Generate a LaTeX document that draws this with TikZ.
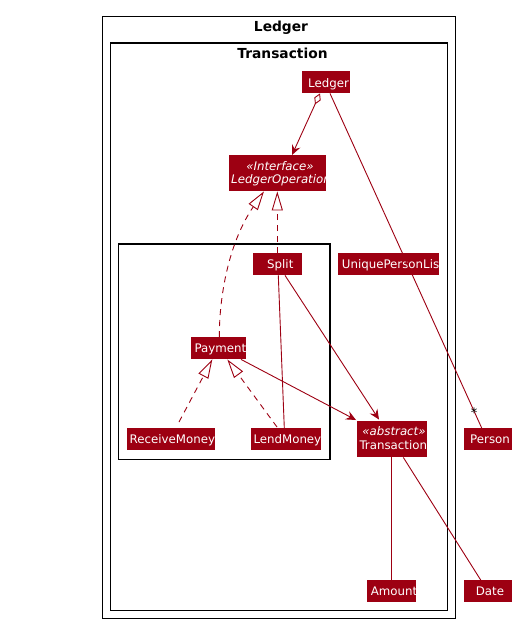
\documentclass[tikz,border=0pt]{standalone}
\usepackage{fontspec}
\setmainfont{DejaVu Sans}
\usetikzlibrary{arrows.meta}
\definecolor{mred}{HTML}{9D0012}
\newcommand\cliplabel[5]{%
  \begin{scope}
    \clip (#1.north west) rectangle (#1.south east);
    \node[lbl] (#2) at (#3,#4) {#5};
  \end{scope}}
\newcommand\clipstereo[5]{%
  \begin{scope}
    \clip (#1.north west) rectangle (#1.south east);
    \node[stereo] (#2) at (#3,#4) {#5};
  \end{scope}}
\begin{document}
\begin{tikzpicture}[x=1pt,y=-1pt,
  cls/.style={fill=mred, draw=none, inner sep=0pt, anchor=north west},
  lbl/.style={text=white, font=\fontsize{11.8}{13}\selectfont, inner sep=0pt, anchor=base west},
  stereo/.style={text=white, font=\fontsize{11.8}{13}\selectfont\itshape, inner sep=0pt, anchor=base},
  pkg/.style={draw=black, line width=1.3pt},
  ptitle/.style={font=\fontsize{13.8}{15}\selectfont\bfseries, inner sep=0pt, anchor=base},
  conn/.style={draw=mred, line width=0.9pt},
  arr/.style={-{Stealth[length=10pt,width=9pt,inset=3.5pt]}},
  ext/.style={-{Triangle[open,length=19pt,width=11pt,fill=white]}, dash pattern=on 6pt off 5pt},
  agg/.style={{Diamond[open,length=12pt,width=7pt,fill=white]}-{Stealth[length=10pt,width=9pt,inset=3.5pt]}}
]
\useasboundingbox (0,0) rectangle (523,629);

% packages
\draw[pkg] (102.5,16.5) rectangle (455.5,618.5);
\node[ptitle] (tledger) at (281,31) {Ledger};
\draw[pkg] (110.5,43) rectangle (447.5,610.5);
\node[ptitle] (ttrans) at (282.5,58.3) {Transaction};
\draw[draw=black, line width=1.2pt] (118.5,244) rectangle (330,459.5);

% classes
\node[cls, minimum width=48pt, minimum height=22pt] (ledger) at (302,71) {};
\node[cls, minimum width=97pt, minimum height=36pt] (lop) at (229,155) {};
\node[cls, minimum width=49pt, minimum height=22pt] (split) at (253,253) {};
\node[cls, minimum width=101pt, minimum height=22pt] (upl) at (338,253) {};
\node[cls, minimum width=55pt, minimum height=22pt] (payment) at (191,337) {};
\node[cls, minimum width=88pt, minimum height=22pt] (recv) at (127,428) {};
\node[cls, minimum width=70pt, minimum height=22pt] (lend) at (251,428) {};
\node[cls, minimum width=70pt, minimum height=36pt] (trans) at (357,421) {};
\node[cls, minimum width=48pt, minimum height=22pt] (person) at (464,428) {};
\node[cls, minimum width=49pt, minimum height=22pt] (amount) at (367,580) {};
\node[cls, minimum width=48pt, minimum height=22pt] (date) at (464,580) {};

% labels
\cliplabel{ledger}{ledgerT}{308}{87}{Ledger}
\clipstereo{lop}{lopS}{280}{170}{«Interface»}
\begin{scope}
  \clip (lop.north west) rectangle (lop.south east);
  \node[lbl, font=\fontsize{11.8}{13}\selectfont\itshape] (lopT) at (231,183) {LedgerOperation};
\end{scope}
\cliplabel{split}{splitT}{267}{268}{Split}
\cliplabel{upl}{uplT}{341.7}{268}{UniquePersonList}
\cliplabel{payment}{paymentT}{194.3}{352}{Payment}
\cliplabel{recv}{recvT}{129.5}{443}{ReceiveMoney}
\cliplabel{lend}{lendT}{253.3}{443}{LendMoney}
\clipstereo{trans}{transS}{394}{435}{«abstract»}
\cliplabel{trans}{transT}{359.3}{449}{Transaction}
\cliplabel{person}{personT}{470}{443}{Person}
\cliplabel{amount}{amountT}{370.7}{595}{Amount}
\cliplabel{date}{dateT}{475.7}{595}{Date}

% connectors
\draw[conn, agg] ([xshift=18pt]ledger.south west) -- ([xshift=63pt]lop.north west);
\draw[conn] ([xshift=28pt]ledger.south west) -- ([xshift=17.7pt]person.north west);
\node[font=\fontsize{13}{14}\selectfont, text=black, inner sep=0pt] (star) at ([xshift=10pt,yshift=15pt]person.north west) {*};
\draw[conn, ext] ([xshift=28.3pt]payment.north west) .. controls (219.3,290) and (231,239) .. ([xshift=35pt]lop.south west);
\draw[conn, ext] ([xshift=24.3pt]split.north west) -- ([xshift=48.3pt]lop.south west);
\draw[conn] ([xshift=25.3pt]split.south west) -- ([xshift=33.3pt]lend.north west);
\draw[conn, arr] ([xshift=32pt]split.south west) -- ([xshift=22pt,yshift=1.5pt]trans.north west);
\draw[conn, arr] ([xshift=50pt]payment.south west) -- ([xshift=-1pt,yshift=1pt]trans.north west);
\draw[conn, ext] ([xshift=52pt,yshift=6pt]recv.north west) -- ([xshift=21.3pt]payment.south west);
\draw[conn, ext] ([xshift=26pt,yshift=1pt]lend.north west) -- ([xshift=36.3pt]payment.south west);
\draw[conn] ([xshift=34.7pt]trans.south west) -- ([xshift=24.7pt]amount.north west);
\draw[conn] ([xshift=46.3pt]trans.south west) -- ([xshift=16.7pt]date.north west);
\end{tikzpicture}
\end{document}
